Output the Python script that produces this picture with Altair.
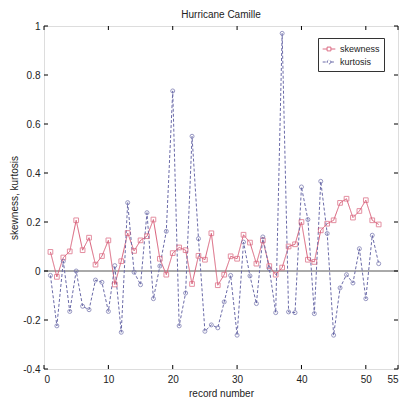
import altair as alt
import pandas as pd

record = list(range(1, 53))
skewness = [0.078, -0.024, 0.055, 0.08, 0.207, 0.085, 0.136, 0.026, 0.061, 0.125,
            -0.055, 0.04, 0.155, 0.082, 0.125, 0.142, 0.21, 0.05, -0.015, 0.073,
            0.096, 0.085, -0.053, 0.062, 0.046, 0.154, -0.058, -0.015, 0.06, 0.05,
            0.148, 0.116, 0.03, 0.125, 0.02, -0.015, 0.014, 0.1, 0.109, 0.2,
            0.046, 0.037, 0.166, 0.193, 0.207, 0.278, 0.295, 0.218, 0.245, 0.289,
            0.207, 0.19]
kurtosis = [-0.018, -0.224, 0.04, -0.165, 0.0, -0.144, -0.158, -0.037, -0.046, -0.165,
            0.022, -0.25, 0.279, -0.005, -0.056, 0.238, -0.113, 0.02, 0.162, 0.735,
            -0.224, -0.09, 0.55, 0.132, -0.246, -0.22, -0.232, -0.126, -0.018, -0.262,
            0.118, -0.02, -0.133, 0.139, 0.01, -0.17, 0.97, -0.167, -0.17, 0.343,
            0.21, -0.174, 0.366, 0.153, -0.262, -0.069, -0.015, -0.049, 0.091, -0.113,
            0.146, 0.03]
series_names = ["skewness", "kurtosis"]
x_ticks = [0, 10, 20, 30, 40, 50, 55]
y_ticks = [-0.4, -0.2, 0, 0.2, 0.4, 0.6, 0.8, 1]

W, H = 354, 343
RED = "#d9607a"
BLUE = "#6a6aa8"
FONT = "Liberation Sans"

df = pd.DataFrame({
    "record": record * 2,
    "value": skewness + kurtosis,
    "series": ["skewness"] * len(record) + ["kurtosis"] * len(record),
})
xt = pd.DataFrame({"t": x_ticks})
yt = pd.DataFrame({"t": y_ticks})

xscale = alt.Scale(domain=[0, 55], nice=False, zero=False)
yscale = alt.Scale(domain=[-0.4, 1], nice=False, zero=False)
cscale = alt.Scale(domain=series_names, range=[RED, BLUE])
dscale = alt.Scale(domain=series_names, range=[[1, 0], [3, 2]])

sym_sk = "M-1,0H-0.3M0.3,0H1M-0.3,-0.3H0.3V0.3H-0.3Z"
sym_ku = "M-1,0H-0.3M0.3,0H1M0.3,0A0.3,0.3,0,1,1,-0.3,0A0.3,0.3,0,1,1,0.3,0"

legend = alt.Legend(title=None, orient="none", legendX=274, legendY=12,
                    strokeColor="#333", fillColor="white", padding=4,
                    labelFontSize=9, labelFont=FONT, labelColor="#222",
                    symbolSize=160, symbolOpacity=1, symbolStrokeWidth=1,
                    symbolFillColor="transparent",
                    rowPadding=1, labelOffset=4)

xenc = alt.X("record:Q", scale=xscale, title="record number",
             axis=alt.Axis(values=x_ticks, tickSize=0, domain=False, grid=False,
                           labelPadding=5, titlePadding=4, labelFontSize=10,
                           titleFontSize=10, labelFont=FONT, titleFont=FONT,
                           titleFontWeight="normal", labelColor="#222", titleColor="#222"))
yenc = alt.Y("value:Q", scale=yscale, title="skewness, kurtosis",
             axis=alt.Axis(values=y_ticks, tickSize=0, domain=False, grid=False,
                           labelExpr="datum.value + ''",
                           labelPadding=4, titlePadding=3, labelFontSize=10,
                           titleFontSize=10, labelFont=FONT, titleFont=FONT,
                           titleFontWeight="normal", labelColor="#222", titleColor="#222"))
cenc = alt.Color("series:N", scale=cscale, legend=legend)

base = alt.Chart(df)

zero = alt.Chart(pd.DataFrame({"z": [0]})).mark_rule(color="#555", strokeWidth=1).encode(
    y=alt.Y("z:Q", scale=yscale))

lines = base.mark_line(strokeWidth=1).encode(
    x=xenc, y=yenc,
    color=cenc,
    strokeDash=alt.StrokeDash("series:N", scale=dscale, legend=None),
    detail="series:N",
)

sq = base.transform_filter(alt.datum.series == "skewness").mark_point(
    shape="square", filled=False, size=22, strokeWidth=1).encode(
    x=alt.X("record:Q", scale=xscale), y=alt.Y("value:Q", scale=yscale),
    color=cenc)

ci = base.transform_filter(alt.datum.series == "kurtosis").mark_point(
    shape="circle", filled=False, size=16, strokeWidth=1).encode(
    x=alt.X("record:Q", scale=xscale), y=alt.Y("value:Q", scale=yscale),
    color=cenc)

leg = base.mark_point(opacity=0, filled=False).encode(
    x=alt.X("record:Q", scale=xscale), y=alt.Y("value:Q", scale=yscale),
    color=cenc,
    shape=alt.Shape("series:N", scale=alt.Scale(domain=series_names, range=[sym_sk, sym_ku]),
                    legend=legend),
)

ticks_b = alt.Chart(xt).mark_rule(color="black").encode(
    x=alt.X("t:Q", scale=xscale), y=alt.value(H), y2=alt.value(H - 4))
ticks_t = alt.Chart(xt).mark_rule(color="black").encode(
    x=alt.X("t:Q", scale=xscale), y=alt.value(0), y2=alt.value(4))
ticks_l = alt.Chart(yt).mark_rule(color="black").encode(
    y=alt.Y("t:Q", scale=yscale), x=alt.value(0), x2=alt.value(4))
ticks_r = alt.Chart(yt).mark_rule(color="black").encode(
    y=alt.Y("t:Q", scale=yscale), x=alt.value(W), x2=alt.value(W - 4))

chart = alt.layer(zero, lines, sq, ci, leg, ticks_b, ticks_t, ticks_l, ticks_r).properties(
    width=W, height=H,
    title=alt.TitleParams("Hurricane Camille", fontSize=10, font=FONT, fontWeight="normal",
                          color="#222", offset=1, anchor="middle"),
    autosize=alt.AutoSizeParams(type="none"),
    padding={"left": 44, "top": 26, "right": 6, "bottom": 28},
).configure_view(stroke="black", strokeWidth=1).configure(background="white")

chart.save("out.html", embed_options={"renderer": "svg", "actions": False})
